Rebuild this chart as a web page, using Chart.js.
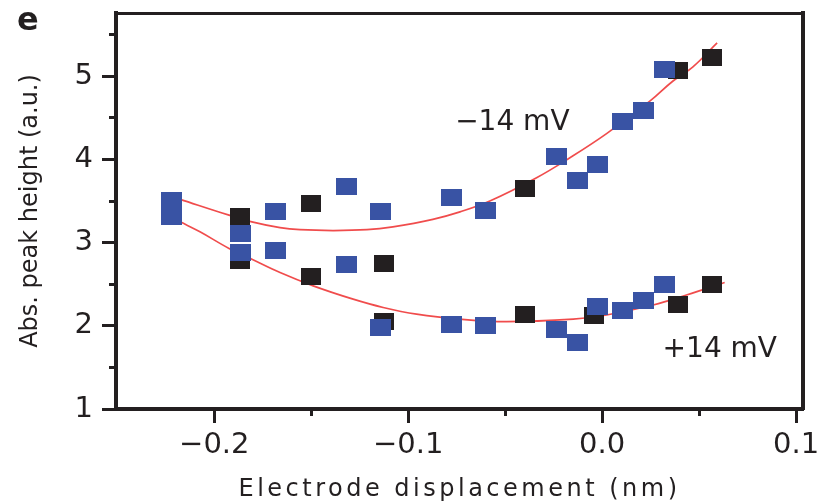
<!DOCTYPE html>
<html>
<head>
<meta charset="utf-8">
<script src="https://cdn.jsdelivr.net/npm/chart.js@4.4.1/dist/chart.umd.min.js"></script>
<style>
  html, body { margin: 0; padding: 0; background: #fff; }
  #wrap { position: relative; width: 823px; height: 502px; }
</style>
</head>
<body>
<div id="wrap"><canvas id="peakChart"></canvas></div>
<script>
'use strict';

// ── Data ──────────────────────────────────────────────────────────
const blueX = [-0.222, -0.222, -0.1865, -0.1865, -0.1685, -0.1685, -0.132, -0.132, -0.1143, -0.1143,
               -0.0778, -0.0778, -0.060, -0.060, -0.0237, -0.0237, -0.0125, -0.0125, -0.0026, -0.0026,
               0.0104, 0.0104, 0.0211, 0.0211, 0.032, 0.032];
const blueY = [3.51, 3.31, 3.11, 2.88, 3.37, 2.91, 3.67, 2.74, 3.37, 1.98,
               3.54, 2.02, 3.39, 2.00, 4.03, 1.96, 3.75, 1.80, 3.94, 2.23,
               4.46, 2.19, 4.59, 2.30, 5.08, 2.50];

const blackX = [-0.1865, -0.1865, -0.150, -0.150, -0.1125, -0.1125, -0.040, -0.040, -0.0043,
                0.0392, 0.0392, 0.0568, 0.0568];
const blackY = [3.31, 2.78, 3.47, 2.59, 2.75, 2.05, 3.65, 2.14, 2.12,
                5.07, 2.26, 5.23, 2.50];

// fitted curves, -14 mV (upper) and +14 mV (lower)
const fitNegX = [-0.2176, -0.1924, -0.1806, -0.1661, -0.1558, -0.1388, -0.1213, -0.1079, -0.0873,
                 -0.0733, -0.0579, -0.0338, -0.0166, 0.0023, 0.0246, 0.0364, 0.0467, 0.0593];
const fitNegY = [3.52, 3.33, 3.25, 3.18, 3.155, 3.145, 3.155, 3.19, 3.28,
                 3.37, 3.50, 3.78, 4.02, 4.31, 4.70, 4.94, 5.11, 5.40];

const fitPosX = [-0.2176, -0.2074, -0.1924, -0.1806, -0.1661, -0.1490, -0.1284, -0.1129,
                 -0.0957, -0.0733, -0.0493, -0.0149, 0.0023, 0.0263, 0.0435, 0.0632];
const fitPosY = [3.25, 3.13, 2.93, 2.80, 2.64, 2.48, 2.32, 2.22,
                 2.14, 2.08, 2.05, 2.08, 2.13, 2.25, 2.37, 2.52];

// ── Axes ──────────────────────────────────────────────────────────
const X_MIN = -0.2507, X_MAX = 0.1036;
const Y_MIN = 1, Y_MAX = 5.76;
const xMajorTicks = [-0.2, -0.1, 0.0, 0.1];
const xTickLabels = ['\u22120.2', '\u22120.1', '0.0', '0.1'];
const xMinorTicks = [-0.15, -0.05, 0.05];
const yMajorTicks = [1, 2, 3, 4, 5];
const yTickLabels = ['1', '2', '3', '4', '5'];
const yMinorTicks = [1.5, 2.5, 3.5, 4.5, 5.5];

const INK   = '#231f20';
const BLUE  = '#3953a4';
const RED   = 'rgba(237,45,45,0.85)';
const FONT  = '"DejaVu Sans", "Liberation Sans", sans-serif';
const TITLE_SPACING = '3.5px';

// curve labels sit in data space, baseline at the given value
const NOTES = [
  { text: '\u221214 mV', x: -0.0463, y: 4.353 },
  { text: '+14 mV',      x: 0.0607,  y: 1.629 },
];

// ── Helpers ───────────────────────────────────────────────────────
function pairs(xs, ys) { return xs.map((x, i) => ({ x, y: ys[i] })); }

function square(color, w, h) {
  const c = document.createElement('canvas');
  c.width = w; c.height = h;
  const g = c.getContext('2d');
  g.fillStyle = color;
  g.fillRect(0, 0, w, h);
  return c;
}

function fixedTicks(values) {
  return s => { s.ticks = values.map(value => ({ value })); };
}

// no label overhang: the plot box is placed by the fixed sizes below
function noOverhang(s) {
  s.paddingTop = s.paddingBottom = s.paddingLeft = s.paddingRight = 0;
}

const frameAxis = (position, width) => ({
  type: 'linear', position,
  grid: { display: true, drawOnChartArea: false, drawTicks: false },
  border: { display: true, color: INK, width },
  ticks: { display: false },
  afterFit: s => { if (s.isHorizontal()) s.height = 0; else s.width = 0; noOverhang(s); },
});

const minorAxis = (axis, values, position) => ({
  type: 'linear', axis, position,
  min: axis === 'x' ? X_MIN : Y_MIN,
  max: axis === 'x' ? X_MAX : Y_MAX,
  afterBuildTicks: fixedTicks(values),
  afterFit: noOverhang,
  grid: { display: true, drawOnChartArea: false, drawTicks: true, tickLength: 7, tickWidth: 3, tickColor: INK },
  border: { display: false },
  ticks: { display: false },
});

// ── Plugins ───────────────────────────────────────────────────────
const notesPlugin = {
  id: 'notes',
  afterDatasetsDraw(chart) {
    const { ctx, scales: { x, y } } = chart;
    ctx.save();
    ctx.fillStyle = INK;
    ctx.font = '28px ' + FONT;
    ctx.textAlign = 'center';
    ctx.textBaseline = 'alphabetic';
    NOTES.forEach(n => ctx.fillText(n.text, x.getPixelForValue(n.x), y.getPixelForValue(n.y)));
    // panel letter
    ctx.font = 'bold 32px ' + FONT;
    ctx.textAlign = 'left';
    ctx.fillText('e', 17, 30);
    ctx.restore();
  },
};

// x title is set wider than the font gives by default
const wideTitle = {
  id: 'wideTitle',
  beforeDraw(chart) {
    const s = chart.scales.x;
    if (s._spaced) return;
    const drawTitle = s.drawTitle.bind(s);
    s.drawTitle = () => {
      chart.ctx.letterSpacing = TITLE_SPACING;
      drawTitle();
      chart.ctx.letterSpacing = '0px';
    };
    s._spaced = true;
  },
};

// ── Chart ─────────────────────────────────────────────────────────
Chart.defaults.font.family = FONT;
Chart.defaults.color = INK;

const ctx = document.getElementById('peakChart').getContext('2d');
new Chart(ctx, {
  type: 'scatter',
  data: {
    datasets: [
      { data: pairs(blueX, blueY), pointStyle: square(BLUE, 21, 17), pointRadius: 10, order: 0 },
      { data: pairs(blackX, blackY), pointStyle: square(INK, 20, 17), pointRadius: 10, order: 1 },
      { data: pairs(fitNegX, fitNegY), showLine: true, pointRadius: 0, borderColor: RED,
        borderWidth: 1.7, tension: 0.4, order: 2 },
      { data: pairs(fitPosX, fitPosY), showLine: true, pointRadius: 0, borderColor: RED,
        borderWidth: 1.7, tension: 0.4, order: 3 },
    ],
  },
  options: {
    responsive: true,
    maintainAspectRatio: false,
    animation: false,
    layout: { padding: { top: 13, right: 20, left: 0, bottom: 0 } },
    plugins: { legend: { display: false }, tooltip: { enabled: false } },
    scales: {
      x: {
        type: 'linear', position: 'bottom', min: X_MIN, max: X_MAX,
        afterBuildTicks: fixedTicks(xMajorTicks),
        afterFit: s => { s.height = 93; noOverhang(s); },
        grid: { display: true, drawOnChartArea: false, drawTicks: true, tickLength: 14, tickWidth: 3, tickColor: INK },
        border: { display: true, color: INK, width: 4 },
        ticks: { padding: 5, font: { size: 29 }, color: INK, maxRotation: 0, autoSkip: false,
                 callback: (v, i) => xTickLabels[i] },
        title: { display: true, text: 'Electrode displacement (nm)', color: INK,
                 font: { size: 24, lineHeight: 1 }, padding: { top: 0, bottom: 0 } },
      },
      y: {
        type: 'linear', position: 'left', min: Y_MIN, max: Y_MAX,
        afterBuildTicks: fixedTicks(yMajorTicks),
        afterFit: s => { s.width = 116; noOverhang(s); },
        grid: { display: true, drawOnChartArea: false, drawTicks: true, tickLength: 14, tickWidth: 3, tickColor: INK },
        border: { display: true, color: INK, width: 4 },
        ticks: { padding: 9, font: { size: 29 }, color: INK, autoSkip: false,
                 callback: (v, i) => yTickLabels[i] },
        title: { display: true, text: 'Abs. peak height (a.u.)', color: INK,
                 font: { size: 24, lineHeight: 1.2 }, padding: { top: 16, bottom: 0 } },
      },
      xTop: frameAxis('top', 3),
      yRight: frameAxis('right', 4),
      xMinor: minorAxis('x', xMinorTicks, { y: Y_MIN }),
      yMinor: minorAxis('y', yMinorTicks, { x: X_MIN }),
    },
  },
  plugins: [wideTitle, notesPlugin],
});
</script>
</body>
</html>
